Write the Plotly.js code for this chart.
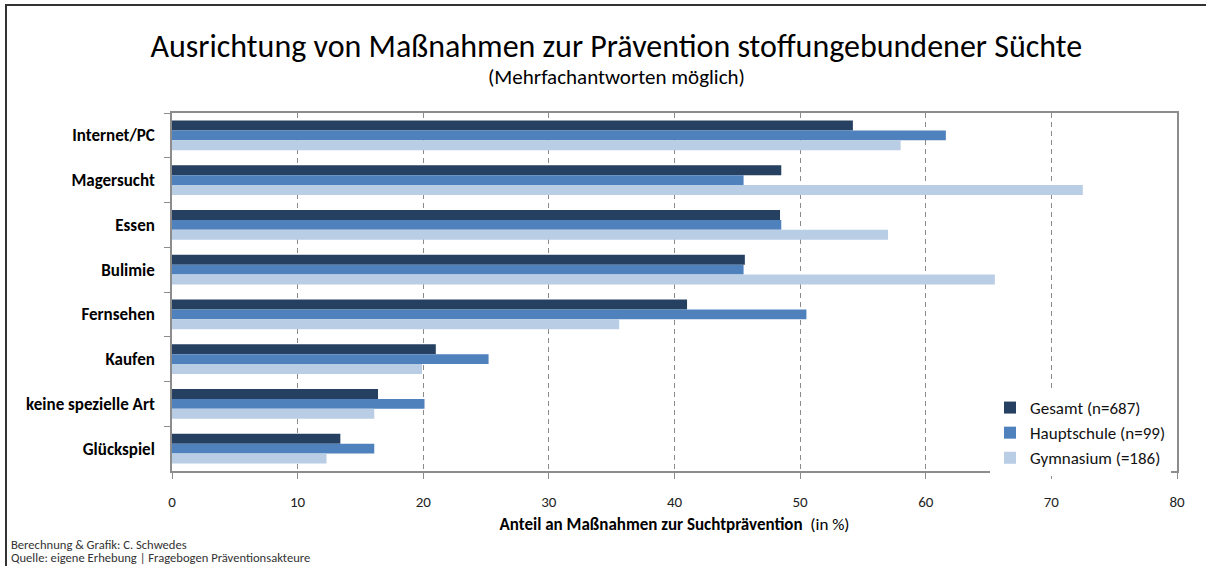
<!DOCTYPE html>
<html><head><meta charset="utf-8">
<script src="https://cdn.plot.ly/plotly-3.0.1.min.js"></script>
<style>
body{margin:0;background:#fff;overflow:hidden}
#frame{position:absolute;left:5px;top:4px;width:1300px;height:700px;border-left:2px solid #333;border-top:2px solid #333;pointer-events:none}
</style>
</head><body>
<div id="chart" style="width:1206px;height:566px"></div>
<div id="frame"></div>
<script>
const categories = ["Internet/PC","Magersucht","Essen","Bulimie","Fernsehen","Kaufen","keine spezielle Art","Glückspiel"];
const gesamt      = [54.2, 48.5, 48.4, 45.6, 41.0, 21.0, 16.4, 13.4];
const hauptschule = [61.6, 45.5, 48.5, 45.5, 50.5, 25.2, 20.1, 16.1];
const gymnasium   = [58.0, 72.5, 57.0, 65.5, 35.6, 19.9, 16.1, 12.3];
const seriesNames = ["Gesamt (n=687)", "Hauptschule (n=99)", "Gymnasium (=186)"];
const seriesColors = ["#254061", "#4F81BD", "#B9CDE5"];
const xTicks = [0, 10, 20, 30, 40, 50, 60, 70, 80];

const FONT = "Carlito, Lato, 'Open Sans', sans-serif";
const seriesValues = [gesamt, hauptschule, gymnasium];

const traces = seriesValues.map((vals, i) => ({
  type: "bar",
  orientation: "h",
  y: categories,
  x: vals,
  name: seriesNames[i],
  legendgroup: "g" + i,
  marker: {color: seriesColors[i], line: {width: 0}},
  hoverinfo: "x+y+name"
}));

const layout = {
  width: 1206, height: 566,
  paper_bgcolor: "#fff", plot_bgcolor: "#fff",
  font: {family: FONT, color: "#000"},
  margin: {l: 172, r: 29, t: 113, b: 95, pad: 0},
  barmode: "group", bargap: 0.33, bargroupgap: 0,
  showlegend: true,
  title: {
    text: "Ausrichtung von Maßnahmen zur Prävention stoffungebundener Süchte",
    font: {family: FONT, size: 32, color: "#000"},
    x: 0.511, xanchor: "center", xref: "container",
    y: 1 - 46/566, yanchor: "middle", yref: "container"
  },
  xaxis: {
    range: [0, 80], tickvals: xTicks, ticktext: xTicks.map(String),
    showgrid: true, gridcolor: "#8a8a8a", griddash: "5px,4px", gridwidth: 1,
    zeroline: false, showline: true, linecolor: "#8c8c8c", linewidth: 1.5, mirror: true,
    ticks: "outside", ticklen: 6, tickcolor: "#8c8c8c", tickwidth: 1,
    tickfont: {family: FONT, size: 15, color: "#222"},
    ticklabelstandoff: 10,
    title: {
      text: "<b>Anteil an Maßnahmen zur Suchtprävention</b>  (in %)",
      font: {family: FONT, size: 17, color: "#000"},
      standoff: 8
    },
    fixedrange: true
  },
  yaxis: {
    type: "category", autorange: "reversed",
    tickson: "boundaries", ticks: "outside", ticklen: 6, tickcolor: "#8c8c8c", tickwidth: 1,
    showgrid: false, zeroline: false,
    showline: true, linecolor: "#8c8c8c", linewidth: 1.5, mirror: true,
    tickfont: {family: FONT, size: 17, color: "#000", weight: "bold"},
    ticklabelstandoff: 12,
    fixedrange: true
  },
  legend: {
    x: (990 - 172) / 1005, xanchor: "left",
    y: -0.014, yanchor: "bottom",
    bgcolor: "#fff", borderwidth: 0,
    font: {family: FONT, size: 17, color: "#111"},
    traceorder: "normal", tracegroupgap: 8,
    itemwidth: 30
  },
  annotations: [
    {text: "(Mehrfachantworten möglich)", xref: "paper", yref: "paper",
     x: (616 - 172) / 1005, y: (471 - 77) / 358, xanchor: "center", yanchor: "middle",
     showarrow: false, font: {family: FONT, size: 21, color: "#000"}},
    {text: "Berechnung & Grafik: C. Schwedes", xref: "paper", yref: "paper",
     x: (9 - 172) / 1005, y: (471 - 544) / 358, xanchor: "left", yanchor: "middle",
     showarrow: false, font: {family: FONT, size: 12.6, color: "#333"}},
    {text: "Quelle: eigene Erhebung | Fragebogen Präventionsakteure", xref: "paper", yref: "paper",
     x: (9 - 172) / 1005, y: (471 - 557) / 358, xanchor: "left", yanchor: "middle",
     showarrow: false, font: {family: FONT, size: 12.6, color: "#333"}}
  ]
};

Plotly.newPlot("chart", traces, layout, {displayModeBar: false});
</script>
</body></html>
